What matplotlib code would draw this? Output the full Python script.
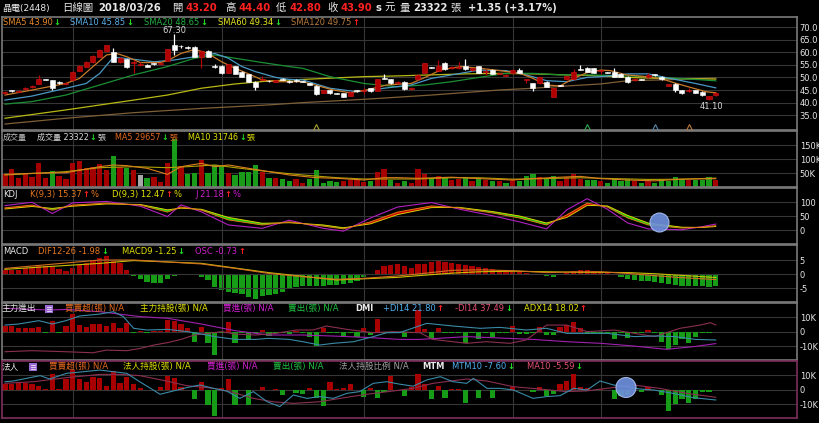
import numpy as np
import matplotlib.pyplot as plt
from matplotlib.patches import Ellipse, Rectangle

plt.rcParams['font.family'] = ['DejaVu Sans', 'Noto Sans CJK TC']

# ---------------- data (daily, last bar = 2018/03/26) ----------------
opens = [43.7, 44.7, 44.4, 45.4, 46.0, 47.4, 49.3, 48.8, 48.0, 47.3,
         49.0, 52.7, 54.2, 56.1, 58.2, 60.3, 60.1, 56.2, 57.2, 55.6,
         54.9, 54.9, 55.5, 55.3, 56.6, 62.7, 62.5, 62.0, 62.2, 58.2,
         60.6, 54.4, 54.5, 51.9, 54.5, 52.3, 51.2, 48.3, 49.1, 48.6,
         48.3, 49.3, 48.6, 49.0, 48.4, 47.6, 46.7, 43.9, 45.0, 43.8,
         43.7, 42.8, 44.8, 44.6, 45.7, 44.7, 49.7, 49.2, 47.6, 48.3,
         45.4, 49.2, 51.9, 54.1, 52.7, 55.8, 53.8, 53.8, 54.5, 52.9,
         54.5, 52.2, 53.0, 51.5, 50.6, 51.6, 53.0, 49.1, 47.6, 47.6,
         48.3, 42.4, 46.8, 49.2, 49.2, 53.3, 53.9, 53.6, 52.6, 52.0,
         52.3, 51.4, 50.3, 49.1, 49.3, 50.0, 51.1, 50.3, 46.7, 47.4,
         45.0, 44.5, 45.0, 44.3, 41.3, 43.2]
closes = [44.3, 44.5, 44.8, 45.9, 46.6, 49.3, 49.1, 45.9, 47.8, 47.8,
          52.3, 54.5, 56.2, 58.4, 60.9, 62.7, 56.2, 57.8, 54.0, 55.9,
          55.5, 54.3, 55.3, 55.8, 61.1, 60.9, 62.3, 61.8, 58.2, 60.5,
          58.2, 54.2, 51.6, 55.2, 51.4, 50.3, 48.3, 46.3, 49.3, 48.4,
          48.9, 49.1, 48.0, 48.4, 48.2, 47.0, 43.4, 45.0, 43.7, 43.6,
          42.4, 44.3, 44.6, 44.8, 44.6, 49.2, 49.5, 47.6, 48.3, 45.4,
          45.9, 51.0, 55.6, 53.9, 54.5, 53.2, 54.0, 54.0, 53.2, 53.6,
          51.9, 52.4, 51.4, 51.7, 51.0, 53.0, 51.9, 49.3, 45.7, 50.0,
          46.3, 45.7, 46.6, 50.5, 52.3, 53.1, 52.3, 51.9, 52.8, 51.8,
          50.3, 50.3, 48.3, 49.3, 49.1, 51.0, 50.9, 49.2, 47.2, 45.0,
          43.7, 44.7, 43.9, 43.0, 42.55, 43.9]
highs = [44.6, 44.9, 45.0, 46.2, 46.8, 51.0, 49.5, 49.0, 48.5, 48.0,
         52.5, 54.8, 56.5, 58.7, 61.2, 63.0, 61.5, 58.0, 57.4, 56.9,
         56.2, 55.2, 55.8, 56.0, 61.3, 67.3, 63.0, 62.6, 62.4, 60.8,
         60.8, 55.5, 54.8, 55.4, 54.7, 52.5, 51.4, 48.5, 50.5, 48.9,
         49.1, 49.8, 48.8, 49.2, 48.6, 47.8, 46.9, 45.2, 45.2, 44.0,
         43.9, 44.5, 45.0, 45.7, 45.9, 49.4, 51.2, 49.4, 48.5, 48.5,
         46.1, 51.2, 55.8, 54.3, 56.9, 56.0, 54.5, 56.2, 57.2, 53.8,
         54.7, 53.2, 53.2, 51.9, 51.2, 53.2, 53.6, 49.5, 47.8, 50.2,
         48.5, 45.9, 47.0, 50.7, 53.2, 55.0, 54.1, 53.8, 53.0, 52.2,
         53.6, 51.6, 50.5, 49.7, 49.5, 51.6, 51.3, 50.5, 47.4, 47.6,
         45.2, 45.7, 45.2, 44.5, 42.7, 44.4]
lows = [43.4, 44.3, 44.2, 45.2, 45.8, 47.2, 48.9, 45.0, 47.5, 47.1,
        48.8, 52.5, 54.0, 55.9, 58.0, 60.0, 56.0, 55.8, 53.8, 51.9,
        54.5, 54.0, 55.0, 55.1, 56.4, 59.0, 61.8, 61.3, 58.0, 53.9,
        58.0, 53.8, 51.4, 51.7, 51.2, 50.1, 48.1, 45.0, 48.8, 48.1,
        48.1, 48.9, 47.8, 48.2, 48.0, 46.8, 43.2, 43.7, 43.5, 43.4,
        42.2, 42.6, 44.4, 43.4, 44.4, 44.5, 49.3, 47.4, 47.4, 45.2,
        45.2, 49.0, 51.7, 53.7, 52.5, 53.0, 53.3, 53.5, 53.0, 52.7,
        51.7, 51.0, 51.2, 51.3, 50.4, 51.4, 51.7, 47.9, 44.6, 47.4,
        46.1, 42.2, 46.4, 49.0, 49.0, 52.9, 52.1, 51.7, 51.5, 51.6,
        50.1, 50.1, 47.6, 48.7, 48.9, 49.8, 50.7, 49.0, 46.5, 44.4,
        43.5, 44.3, 43.7, 42.8, 41.1, 42.8]

# moving averages of price (sampled points)
sma5_x = [0, 4, 9, 11, 13, 15, 16.5, 18, 20, 23, 24.4, 26, 28, 30, 32, 34, 36, 38, 40, 44,
          48.5, 51, 53.4, 56.4, 60, 62.3, 64.3, 67.3, 70.2, 73.1, 76.1, 78, 80, 82, 84, 86,
          88, 89.4, 91.8, 94.8, 96.8, 99.2, 101.7, 103.6, 105]
sma5 = [43.0, 45.0, 47.6, 49.6, 54.3, 58.9, 59.5, 58.2, 55.9, 55.9, 57.2, 59.5, 61.1, 59.5,
        56.2, 53.6, 51.4, 49.0, 48.3, 48.3, 45.0, 43.9, 45.0, 47.0, 47.6, 50.3, 52.9, 54.3,
        53.6, 52.7, 51.6, 49.6, 47.0, 46.6, 49.6, 51.9, 52.9, 52.7, 51.0, 50.3, 49.6, 47.6,
        45.7, 44.3, 43.9]
sma10_x = [0, 4, 9, 12, 14, 16, 19, 22, 25, 28, 31, 33, 35, 37, 40, 42, 44, 48, 52, 56, 60,
           63, 66, 70, 74, 77, 80, 83, 86, 88, 92, 95, 99, 102, 105]
sma10 = [41.0, 42.6, 45.7, 47.6, 51.6, 58.0, 57.2, 56.2, 56.9, 58.2, 59.5, 57.6, 54.3, 52.3,
         50.0, 49.2, 49.0, 45.7, 44.3, 45.7, 47.0, 49.6, 51.0, 52.9, 52.7, 51.0, 48.7, 48.3,
         50.0, 50.3, 51.4, 51.4, 49.2, 47.6, 45.85]
sma20_x = [0, 4, 9, 14, 19, 24, 28, 31, 34, 38, 42, 44, 48, 53, 58, 62, 66, 70, 74, 78, 82,
           86, 92, 97, 102, 105]
sma20 = [39.4, 40.4, 43.0, 47.0, 51.0, 54.3, 57.6, 58.9, 57.6, 55.9, 54.3, 53.6, 50.3, 47.6,
         46.3, 47.0, 48.3, 50.0, 51.6, 51.6, 51.0, 51.0, 50.6, 50.0, 49.2, 48.65]
sma60_x = [0, 9, 19, 24, 29, 34, 39, 44, 53, 58, 63, 68, 73, 78, 83, 88, 92, 97, 105]
sma60 = [33.8, 37.1, 41.0, 43.0, 45.7, 47.4, 48.6, 49.2, 50.3, 50.6, 51.0, 51.4, 51.6, 51.4,
         51.0, 50.6, 50.0, 49.6, 49.34]
sma120_x = [0, 9, 19, 29, 39, 44, 53, 63, 73, 78, 83, 88, 92, 97, 105]
sma120 = [31.5, 33.8, 36.0, 37.7, 39.1, 40.0, 41.3, 43.0, 45.0, 45.7, 46.6, 47.4, 48.7, 49.0,
          49.75]

# volume (K lots), colour code r=up g=down w=flat
volume = [45, 64, 33, 45, 37, 87, 33, 57, 40, 28, 87, 93, 69, 72, 82, 61, 110, 72, 69, 61,
          43, 33, 37, 19, 87, 170, 76, 46, 51, 96, 51, 79, 75, 51, 43, 55, 55, 79, 55, 33,
          33, 28, 21, 28, 15, 28, 61, 15, 21, 19, 21, 25, 27, 19, 21, 52, 63, 25, 16, 21,
          16, 66, 45, 30, 40, 35, 25, 30, 35, 20, 30, 25, 20, 20, 15, 25, 20, 40, 45, 35,
          30, 40, 20, 35, 45, 30, 25, 25, 20, 15, 30, 20, 30, 20, 15, 20, 15, 25, 20, 35,
          30, 25, 25, 25, 35, 23.3]
vol_dir = ("rrrrrrrgrr" "rrrrrrgrgr" "wgrrrgrggr" "gggrggggrg" "rggrrggggg"
           "rrrrgrrgrg" "rr" "rgrgrrgrgr" "grgrgggrgg" "rrrrggrggg" "grgrgggggr" "gggr")
vma5_x = [0, 4, 9, 14, 16, 18, 21, 24, 26, 29, 31, 33, 36, 39, 42, 46, 49, 53, 56, 58, 61,
          66, 70, 75, 78, 82, 85, 88, 92, 96, 100, 105]
vma5 = [45.2, 48.8, 51.2, 72.6, 78.6, 76.2, 66.7, 45.2, 72.6, 84.5, 72.6, 78.6, 66.7, 54.8,
        42.9, 33.3, 31.0, 25.0, 33.3, 33.3, 31.0, 35, 30, 25, 30, 35, 38, 30, 25, 22, 28,
        29.657]
vma10_x = [0, 9, 14, 19, 24, 27, 31, 34, 39, 44, 49, 53, 61, 66, 70, 75, 80, 85, 90, 95,
           100, 105]
vma10 = [42.9, 54.8, 69.0, 72.6, 69.0, 72.6, 78.6, 69.0, 54.8, 42.9, 33.3, 28.6, 28.6, 33,
         33, 28, 30, 33, 30, 27, 28, 31.746]

# KDJ(9,3)
kdj_x = [0, 4, 7, 10, 15, 20, 24, 26, 29, 33, 38, 42, 47, 50, 54, 58, 63, 67, 72, 76, 80,
         83, 86, 89, 92, 95, 100, 103, 105]
k_val = [79, 89, 71, 89, 96, 89, 64, 82, 71, 36, 18, 29, 14, 4, 29, 64, 86, 79, 61, 43, 18,
         54, 96, 82, 43, 18, 7, 10, 15.37]
d_val = [75, 84, 77, 85, 93, 91, 72, 78, 74, 45, 24, 26, 18, 8, 22, 55, 80, 81, 66, 50, 25,
         45, 88, 86, 52, 25, 10, 9, 12.47]
j_val = [87, 99, 59, 97, 102, 85, 48, 90, 65, 18, 6, 35, 6, -4, 43, 82, 98, 75, 51, 29, 4,
         72, 112, 74, 25, 4, 1, 12, 21.18]

# MACD
osc = [0.23, 0.23, 0.23, 0.33, 0.38, 0.48, 0.48, 0.43, 0.28, 0.18, 0.33, 0.53, 0.63, 0.83,
       0.92, 1.06, 0.83, 0.63, 0.23, -0.10, -0.31, -0.45, -0.51, -0.54, -0.31, -0.12, 0.03,
       0.03, -0.08, -0.20, -0.35, -0.74, -0.94, -1.04, -1.14, -1.17, -1.34, -1.49, -1.30,
       -1.24, -1.17, -1.04, -0.91, -0.74, -0.71, -0.71, -0.69, -0.71, -0.66, -0.64, -0.59,
       -0.54, -0.40, -0.20, -0.02, 0.23, 0.48, 0.53, 0.59, 0.48, 0.33, 0.59, 0.59, 0.71,
       0.76, 0.71, 0.66, 0.59, 0.53, 0.48, 0.41, 0.36, 0.30, 0.23, 0.18, 0.18, 0.12, 0.07,
       -0.07, -0.08, -0.12, -0.15, -0.07, 0.07, 0.18, 0.23, 0.23, 0.18, 0.12, 0.07, -0.07,
       -0.18, -0.30, -0.36, -0.41, -0.41, -0.48, -0.53, -0.59, -0.66, -0.71, -0.71, -0.73,
       -0.73, -0.76, -0.73]
dif_x = [0, 14, 19, 29, 34, 39, 44, 49, 53, 58, 61, 66, 70, 75, 80, 85, 88, 92, 96, 100, 105]
dif = [2.0, 5.0, 5.0, 3.6, 2.0, 0.2, -0.95, -1.9, -1.55, -0.7, 0.0, 1.3, 1.5, 1.2, 0.5, 0.8,
       0.8, 0.2, -0.6, -1.3, -1.98]
macd9_x = [0, 14, 19, 29, 39, 49, 58, 61, 66, 70, 75, 80, 85, 88, 92, 96, 100, 105]
macd9 = [1.67, 3.8, 4.8, 3.8, 0.48, -2.14, -1.2, -0.6, 0.3, 0.8, 1.0, 0.8, 0.6, 0.6, 0.5,
         0.1, -0.5, -1.25]

# 主力買賣超 (K lots) + DMI(14)
main_net = [4.2, 4.2, 2.3, 2.3, 2.3, 3.0, -0.7, 7.4, -1.2, 4.0, 12.3, 4.7, 3.0, 5.3, 5.3,
            4.0, 5.8, 2.3, 5.8, -0.7, 0.3, -0.7, 0.3, 0.7, 8.1, 7.7, 5.3, 2.3, -7.0, 3.5,
            -8.1, -16.3, -0.7, 7.0, -7.7, -0.7, -5.8, -0.7, 1.2, -2.8, -0.7, -0.7, -1.9, 0.5,
            -0.7, -4.0, -9.8, 2.3, -0.7, -0.7, -2.8, -0.7, -3.5, 2.3, -2.3, 8.6, -0.7, -0.7,
            -0.7, -3.5, -0.7, 15.0, 1.6, -5.3, 2.8, -0.7, -0.7, -0.7, -7.7, -0.7, -5.3, -0.7,
            -3.5, -0.7, -0.7, 4.0, -1.9, -1.9, -0.7, 3.0, -2.3, -2.3, 3.0, 4.7, 7.0, 2.8,
            -0.7, -0.7, -0.7, -0.7, -5.3, -0.7, -4.7, -0.7, -0.7, 1.2, -0.7, -7.0, -12.3,
            -9.3, -5.3, -7.7, -3.5, -0.7, -0.7]
pdi_x = [0, 2, 5, 7, 9, 11, 14, 16, 17.5, 19, 21, 24, 27, 29, 31, 34, 37, 39, 42, 44, 46.5,
         48.5, 51.5, 54.4, 56.4, 58.3, 62.3, 66.2, 70.2, 73.1, 77, 80, 83, 86, 89, 93, 96, 99,
         102, 105]
pdi = [37.4, 38.5, 42.0, 38.5, 42.0, 46.9, 48.9, 51.4, 46.2, 34.0, 32.2, 32.9, 30.5, 28.0,
       25.3, 22.4, 22.4, 23.5, 22.4, 20.0, 16.5, 18.3, 20.0, 25.3, 29.4, 29.5, 39.2, 36.4,
       34.0, 35.0, 32.2, 34.0, 28.7, 28.7, 28.7, 25.3, 26.0, 25.3, 22.4, 21.8]
mdi_x = [0, 4, 9, 13, 15, 18, 20, 22, 24, 26, 28, 30, 32, 34, 37, 40, 43, 45.5, 47.5, 50.5,
         54.4, 57.4, 61.3, 63.2, 68.2, 71.1, 74.6, 77, 80, 83, 86, 90, 93, 96, 99.7, 102.7,
         104.2, 105]
mdi = [9.5, 10.6, 9.5, 8.4, 11.2, 10.6, 13.0, 16.5, 19.0, 22.4, 27.0, 28.7, 30.5, 28.0, 27.0,
       28.7, 32.2, 32.2, 36.4, 32.9, 29.4, 30.5, 29.4, 22.4, 18.3, 20.0, 18.3, 21.8, 37.4,
       37.4, 30.5, 32.2, 28.7, 25.3, 34.0, 37.4, 39.9, 37.49]
adx_x = [0, 6.6, 9, 14, 20, 24, 29, 34, 39, 44, 48.5, 53.4, 58.3, 61.3, 68.2, 78, 83, 88,
         92.8, 97.7, 101.7, 105]
adx = [55, 53.1, 53.8, 51.4, 46.2, 44.5, 38.5, 31.5, 27.0, 27.0, 25.9, 24.5, 22.4, 22.4,
       25.3, 22.4, 20.0, 18.3, 15.5, 12.0, 14.8, 18.02]

# 法人買賣超 (K lots) + MTM
inst_net = [3.8, 3.8, 4.5, 4.5, 3.8, 2.6, 0.2, 11.0, 0.2, 7.6, 14.0, 7.6, 5.2, 8.8, 8.1,
            2.9, 12.9, 4.5, 8.8, 3.8, 1.0, -0.2, -0.2, 1.7, 9.3, 8.1, 2.1, 0.1, -6.2, 5.2,
            -10.5, -18.6, 1.0, 7.4, -10.5, 0.1, -11.0, 0.1, 2.1, 0.1, 0.5, -3.8, 0.1, -2.6,
            -3.3, 1.0, -5.7, -11.4, 5.2, 0.5, 1.0, 3.8, 0.1, -5.0, 1.4, -5.7, -1.4, 9.3, -0.2,
            -4.3, 2.1, 11.0, 3.8, -6.2, 2.6, -5.7, 0.5, 0.5, -9.0, 0.1, -5.7, 0.1, -5.7, 0.1,
            0.1, 1.7, 0.1, 0.1, -1.9, 1.7, -4.3, -3.3, 3.8, 6.2, 11.0, 2.1, 1.0, 0.1, 0.5,
            0.1, -6.2, -4.3, -3.8, 0.1, -1.9, 2.1, 0.1, -3.8, -15.2, -9.8, -6.2, -9.0, -6.2,
            -1.9, -1.9]
mtm_x = [0, 1.2, 3.2, 5.2, 6.6, 9.1, 11.6, 14, 16, 18, 19.9, 21.9, 22.9, 24.9, 26.8, 28.8,
         30.8, 32.7, 34.7, 36.7, 38.7, 40.6, 42.6, 44.6, 46.5, 48.5, 50.5, 52.4, 54.4, 56.4,
         58.3, 60.3, 62.3, 64.3, 66.2, 68.2, 69.2, 71.2, 73.1, 75.1, 78, 80, 82, 84, 86, 87.9,
         89.9, 91.8, 93.8, 95.8, 98.7, 101.7, 105]
mtm = [5.9, 6.4, 8.4, 10.4, 7.9, 12.1, 13.3, 14.5, 13.3, 12.1, 5.9, -0.2, -3.4, -0.9, 1.5,
       3.5, 1.0, -0.9, -6.4, -1.4, -8.8, -12.5, -3.9, -6.4, -5.1, -6.4, -2.7, -1.4, 4.7, 5.9,
       4.1, 2.6, 7.2, 9.6, 5.9, 4.7, 8.4, 1.0, 1.0, -0.2, -6.4, -5.1, -4.4, 1.0, -0.2, 6.4,
       3.5, 2.2, 0.5, -0.2, -2.7, -5.9, -7.6]
mtm_ma_x = [0, 4.2, 9.1, 14, 17, 19.9, 23.9, 26.8, 30.8, 33.7, 36.7, 39.6, 42.6, 46.5, 49.5,
            53.4, 57.4, 60.3, 63.2, 68.2, 71.2, 75.1, 79, 82.9, 85.9, 88.9, 92.8, 96.7, 100.7,
            105]
mtm_ma = [4.7, 5.9, 8.9, 11.3, 11.3, 10.4, 6.4, 3.0, 1.0, -2.0, -6.4, -8.9, -10.1, -8.9,
          -6.4, -3.4, -0.9, 1.0, 4.7, 7.9, 6.4, 2.2, 0.5, -1.4, -0.9, 1.0, 3.5, 1.0, -2.7,
          -5.59]

month_starts = [10, 32, 53, 75, 88]
signal_idx = [46, 86, 96, 101]
signal_col = ['#a8a030', '#30a850', '#5a86a8', '#b87838']

# ---------------- drawing ----------------
W, H = 820, 423
fig = plt.figure(figsize=(W / 100, H / 100), dpi=100, facecolor='black')
renderer = fig.canvas.get_renderer()
N = len(closes)
x = np.arange(N)
RED, GREEN = '#a80000', '#169c16'


def panel(top, bot, edge='#7a7a7a'):
    ax = fig.add_axes([2 / W, 1 - bot / H, 795 / W, (bot - top) / H])
    ax.set_facecolor('black')
    for s in ax.spines.values():
        s.set_color(edge)
        s.set_linewidth(1.2)
    return ax


def style(ax, ylim, ticks, labels):
    ax.set_xlim(-0.44, 117)
    ax.set_ylim(*ylim)
    ax.set_xticks(month_starts)
    ax.set_yticks(ticks)
    ax.set_yticklabels(labels)
    ax.yaxis.tick_right()
    ax.tick_params(axis='y', length=0, labelsize=6, labelcolor='#e6e6e6', pad=2)
    ax.tick_params(axis='x', length=0, labelbottom=False)
    ax.grid(True, color='#363636', lw=0.8)
    ax.set_axisbelow(True)


def twin(ax, ylim):
    t = ax.twinx()
    t.set_xlim(-0.44, 117)
    t.set_ylim(*ylim)
    t.axis('off')
    return t


def txt(px, py, s, c, size=6, weight='normal'):
    return fig.text(px / W, 1 - py / H, s, color=c, fontsize=size, fontweight=weight,
                    ha='left', va='center')


def seq(px, py, parts, size=6, gap=1):
    # legend pieces placed one after another
    for s, c, *w in parts:
        t = txt(px, py, s, c, size, w[0] if w else 'normal')
        px = t.get_window_extent(renderer).x1 + gap


# price panel
ax = panel(17, 130)
style(ax, (29.13, 73.97), [35, 40, 45, 50, 55, 60, 65, 70],
      ['35.0', '40.0', '45.0', '50.0', '55.0', '60.0', '65.0', '70.0'])
for xs, ys, c in [(sma120_x, sma120, '#7d5f36'), (sma60_x, sma60, '#b8b814'),
                  (sma20_x, sma20, '#1b8f34'), (sma10_x, sma10, '#4a98c4'),
                  (sma5_x, sma5, '#c87a2a')]:
    ax.plot(xs, ys, color=c, lw=0.9, zorder=2)
o, c = np.array(opens), np.array(closes)
up = c >= o
ccol = np.where(up, '#b00000', '#ffffff')
ax.vlines(x, lows, highs, colors=ccol, lw=0.9, zorder=3)
ax.bar(x, np.maximum(np.abs(c - o), 0.35), bottom=np.minimum(o, c), width=0.74,
       color=ccol, edgecolor=np.where(up, '#d81818', '#ffffff'), lw=0.4, zorder=4)
ax.text(25, 68.5, '67.30', color='#d8d8d8', fontsize=6, ha='center', va='center')
ax.text(104.3, 40.4, '41.10', color='#d8d8d8', fontsize=6, ha='center', va='top')
for i, col in zip(signal_idx, signal_col):
    ax.plot(i, 30.4, marker='^', ms=4.2, mfc='none', mec=col, mew=0.8, zorder=5)

# volume panel
av = panel(131, 187)
style(av, (0, 200), [50, 100, 150], ['50K', '100K', '150K'])
vc = {'r': '#a50000', 'g': '#1a9b1a', 'w': '#a8a8a8'}
av.bar(x, volume, width=0.78, color=[vc[d] for d in vol_dir], zorder=2)
av.plot(vma10_x, vma10, color='#b0a000', lw=0.8, zorder=3)
av.plot(vma5_x, vma5, color='#d8801e', lw=0.8, zorder=3)

# KDJ panel
ak = panel(188, 244)
style(ak, (-50, 150), [0, 50, 100], ['0', '50', '100'])
kx, kk, dd = np.array(kdj_x), np.array(k_val), np.array(d_val)
ak.fill_between(kx, kk, dd, where=kk >= dd, interpolate=True, color='#d00000', lw=0, zorder=2)
ak.fill_between(kx, kk, dd, where=kk < dd, interpolate=True, color='#10d010', lw=0, zorder=2)
ak.plot(kdj_x, j_val, color='#b020c0', lw=0.8, zorder=3)
ak.plot(kdj_x, d_val, color='#d8d000', lw=0.7, zorder=3)
ak.plot(kdj_x, k_val, color='#e07818', lw=0.7, zorder=3)

# MACD panel
am = panel(245, 302)
amb = twin(am, (-1.65, 1.71))
style(am, (-10, 10.36), [-5, 0, 5], ['-5', '0', '5'])
amb.set_zorder(am.get_zorder() - 1)
am.patch.set_visible(False)
amb.bar(x, osc, width=0.78, color=np.where(np.array(osc) >= 0, RED, GREEN))
am.plot(macd9_x, macd9, color='#c8c000', lw=0.8)
am.plot(dif_x, dif, color='#d07020', lw=0.8)

# 主力進出 / DMI panel
ad = panel(303, 360)
adl = twin(ad, (0.84, 60.5))
style(ad, (-19.7, 19.9), [-10, 0, 10], ['-10K', '0', '10K'])
ad.bar(x[:len(main_net)], main_net, width=0.78,
       color=np.where(np.array(main_net) >= 0, RED, GREEN), zorder=2)
adl.plot(adx_x, adx, color='#a020b0', lw=0.8)
adl.plot(mdi_x, mdi, color='#8a3050', lw=0.8)
adl.plot(pdi_x, pdi, color='#3a8aa6', lw=0.8)

# 法人 / MTM panel
at = panel(361, 418, edge='#7c2e5c')
atl = twin(at, (-20.9, 21.2))
style(at, (-19.8, 20.1), [-10, 0, 10], ['-10K', '0', '10K'])
at.bar(x[:len(inst_net)], inst_net, width=0.78,
       color=np.where(np.array(inst_net) >= 0, RED, GREEN), zorder=2)
atl.plot(mtm_ma_x, mtm_ma, color='#8a3050', lw=0.8)
atl.plot(mtm_x, mtm, color='#3a8aa6', lw=0.8)

# highlight circles
for cx, cy, r in [(659.5, 222.5, 9.5), (626, 387.5, 10)]:
    fig.add_artist(Ellipse((cx / W, 1 - cy / H), 2 * r / W, 2 * r / H,
                           transform=fig.transFigure, fc='#6d8fdc', ec='#a8bdf0',
                           lw=0.8, alpha=0.92, zorder=10))

# ---------------- texts ----------------
WH = '#e8e8e8'
R_, G_ = '#ff2020', '#20e020'
UP, DN = ('↑', R_, 'bold'), ('↓', G_, 'bold')
txt(2, 8, '晶電(2448)', WH, 6.5)
txt(62, 8, '日線圖', WH, 7.5)
txt(98, 8, '2018/03/26', WH, 7.2, 'bold')
for px, lab, val_x, val in [(172, '開', 186, '43.20'), (225, '高', 239, '44.40'),
                            (276, '低', 290, '42.80'), (327, '收', 341, '43.90')]:
    txt(px, 8, lab, WH, 7.5)
    txt(val_x, 8, val, R_, 7.2, 'bold')
txt(376, 8, 's', WH, 7.2, 'bold')
txt(384, 8, '元', WH, 7.5)
txt(400, 8, '量', WH, 7.5)
txt(413, 8, '23322', WH, 7.2, 'bold')
txt(450, 8, '張', WH, 7.5)
txt(468, 8, '+1.35 (+3.17%)', WH, 7.2, 'bold')

# price legend
y0 = 22.5
seq(3, y0, [('SMA5 43.90', '#e8892a'), DN])
seq(70, y0, [('SMA10 45.85', '#5ab0e8'), DN])
seq(144, y0, [('SMA20 48.65', '#20b040'), DN])
seq(218, y0, [('SMA60 49.34', '#e8e820'), DN])
seq(291, y0, [('SMA120 49.75', '#b87a3c'), UP])

# volume legend
y0 = 137.5
txt(3, y0, '成交量', '#c0c0c0', 5.8)
seq(37, y0, [('成交量 23322', '#d8d8d8'), DN, ('張', '#d8d8d8')], 5.8)
seq(115, y0, [('MA5 29657', '#e0681e'), DN, ('張', '#e0681e')], 5.8)
seq(188, y0, [('MA10 31746', '#e0e000'), DN, ('張', '#e0e000')], 5.8)

# KDJ legend
y0 = 194
txt(3, y0, 'KDJ', WH)
seq(30, y0, [('K(9,3) 15.37', '#e87820'), UP, ('%', '#e87820')])
seq(112, y0, [('D(9,3) 12.47', '#e0e000'), UP, ('%', '#e0e000')])
seq(195, y0, [('J 21.18', '#d020d0'), UP, ('%', '#d020d0')])

# MACD legend
y0 = 251
txt(3, y0, 'MACD', WH)
seq(38, y0, [('DIF12-26 -1.98', '#e87820'), DN])
seq(122, y0, [('MACD9 -1.25', '#e0e000'), DN])
seq(195, y0, [('OSC -0.73', '#d020d0'), UP])


def icon(px, py):
    fig.add_artist(Rectangle((px / W, 1 - (py + 4) / H), 8 / W, 8 / H,
                             transform=fig.transFigure, fc='#9a6ad2', ec='none'))
    for dy in (-2, 0, 2):
        fig.add_artist(plt.Line2D([(px + 2) / W, (px + 6) / W],
                                  [1 - (py + dy) / H] * 2, color='white', lw=0.5,
                                  transform=fig.transFigure))


# 主力 / DMI legend
y0 = 308.5
txt(2, y0, '主力進出', WH, 6.2)
icon(45, y0)
txt(65, y0, '買賣超(張) N/A', '#e0681e', 6.2)
txt(140, y0, '主力持股(張) N/A', '#e0e000', 6.2)
txt(223, y0, '買進(張) N/A', '#d020d0', 6.2)
txt(288, y0, '賣出(張) N/A', '#20c040', 6.2)
txt(355, y0, 'DMI', WH, 6, 'bold')
seq(383, y0, [('+DI14 21.80', '#50b0f0'), UP])
seq(455, y0, [('-DI14 37.49', '#e05070'), DN])
seq(524, y0, [('ADX14 18.02', '#e0e000'), UP])

# 法人 / MTM legend
y0 = 366.5
txt(2, y0, '法人', WH, 6.2)
icon(29, y0)
txt(49, y0, '買賣超(張) N/A', '#e0681e', 6.2)
txt(123, y0, '法人持股(張) N/A', '#e0e000', 6.2)
txt(207, y0, '買進(張) N/A', '#d020d0', 6.2)
txt(273, y0, '賣出(張) N/A', '#20c040', 6.2)
txt(339, y0, '法人持股比例 N/A', '#a0a0a0', 6.2)
txt(422, y0, 'MTM', WH, 6, 'bold')
seq(452, y0, [('MTM10 -7.60', '#50b0f0'), DN])
seq(527, y0, [('MA10 -5.59', '#e05070'), DN])

fig.savefig('out.png', dpi=100, facecolor='black')
